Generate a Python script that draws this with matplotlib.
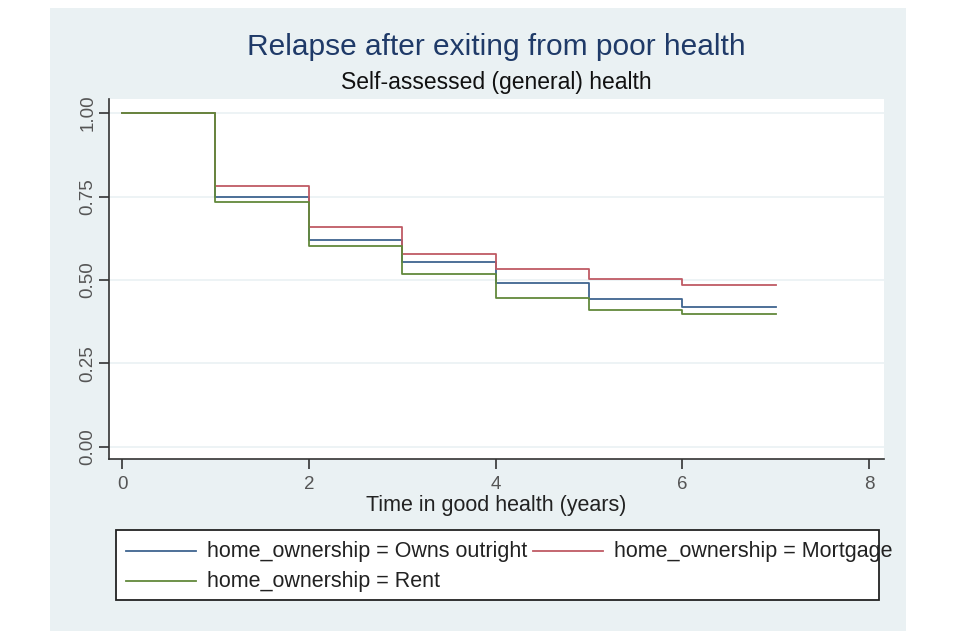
import numpy as np
import matplotlib
matplotlib.use('Agg')
import matplotlib.pyplot as plt
from matplotlib.patches import Rectangle
from matplotlib.lines import Line2D

plt.rcParams['font.family'] = ['Liberation Sans', 'DejaVu Sans']

# survival estimates by year
years = [0, 1, 2, 3, 4, 5, 6, 7]
owns = [1.0, 0.749, 0.620, 0.554, 0.491, 0.443, 0.419, 0.419]
mortgage = [1.0, 0.781, 0.659, 0.578, 0.533, 0.503, 0.485, 0.485]
rent = [1.0, 0.734, 0.602, 0.518, 0.446, 0.410, 0.398, 0.398]

labels = ['home_ownership = Owns outright',
          'home_ownership = Mortgage',
          'home_ownership = Rent']
colors = ['#3f6590', '#bf5a64', '#62893c']
yticks = [0, 0.25, 0.5, 0.75, 1.0]
xticks = [0, 2, 4, 6, 8]

bg = '#eaf1f3'
W, H = 960.0, 640.0

fig = plt.figure(figsize=(9.6, 6.4), dpi=100)
fig.patches.append(Rectangle((50/W, 9/H), 856/W, 623/H,
                             transform=fig.transFigure, facecolor=bg,
                             edgecolor='none', zorder=-10))

ax = fig.add_axes([109/W, 181/H, 775/W, 360/H])
ax.set_facecolor('white')

l1, = ax.step(years, owns, where='post', color=colors[0], lw=1.3)
l2, = ax.step(years, mortgage, where='post', color=colors[1], lw=1.3)
l3, = ax.step(years, rent, where='post', color=colors[2], lw=1.3)

ax.set_xlim(-0.14, 8.16)
ax.set_ylim(-0.036, 1.042)
ax.set_yticks(yticks)
ax.set_yticklabels(['%.2f' % v for v in yticks], rotation=90, va='center')
ax.set_xticks(xticks)
ax.grid(axis='y', color=bg, lw=1.2)
ax.set_axisbelow(True)
for s in ['top', 'right']:
    ax.spines[s].set_visible(False)
for s in ['left', 'bottom']:
    ax.spines[s].set_color('#333333')
    ax.spines[s].set_linewidth(1.2)
ax.tick_params(colors='#333333', labelcolor='#555555', labelsize=13.5,
               length=7, width=1.2, direction='out', pad=5)
ax.tick_params(axis='y', pad=2)
ax.set_xlabel('Time in good health (years)', fontsize=15.5, labelpad=2,
              color='#222222')

# titles centred over the plot region
cx = (109 + 884) / 2 / W
fig.text(cx, 1 - 47/H, 'Relapse after exiting from poor health',
         ha='center', va='center', fontsize=21.5, color='#1f3a68')
fig.text(cx, 1 - 82/H, 'Self-assessed (general) health',
         ha='center', va='center', fontsize=16.5, color='#111111')

# legend box drawn by hand, Stata style (text runs into next key)
fig.patches.append(Rectangle((116/W, 40/H), 763/W, 70/H,
                             transform=fig.transFigure, facecolor='white',
                             edgecolor='#222222', lw=1.3, zorder=5))
entries = [(126, 551, 0), (533, 551, 1), (126, 581, 2)]
for x0, y0, i in entries:
    fig.add_artist(Line2D([x0/W, (x0 + 70)/W], [1 - y0/H, 1 - y0/H],
                          transform=fig.transFigure, color=colors[i],
                          lw=1.3, zorder=6))
    fig.text((x0 + 81)/W, 1 - y0/H, labels[i], ha='left', va='center',
             fontsize=15.5, color='#222222', zorder=7)

fig.savefig('out.png', dpi=100)
